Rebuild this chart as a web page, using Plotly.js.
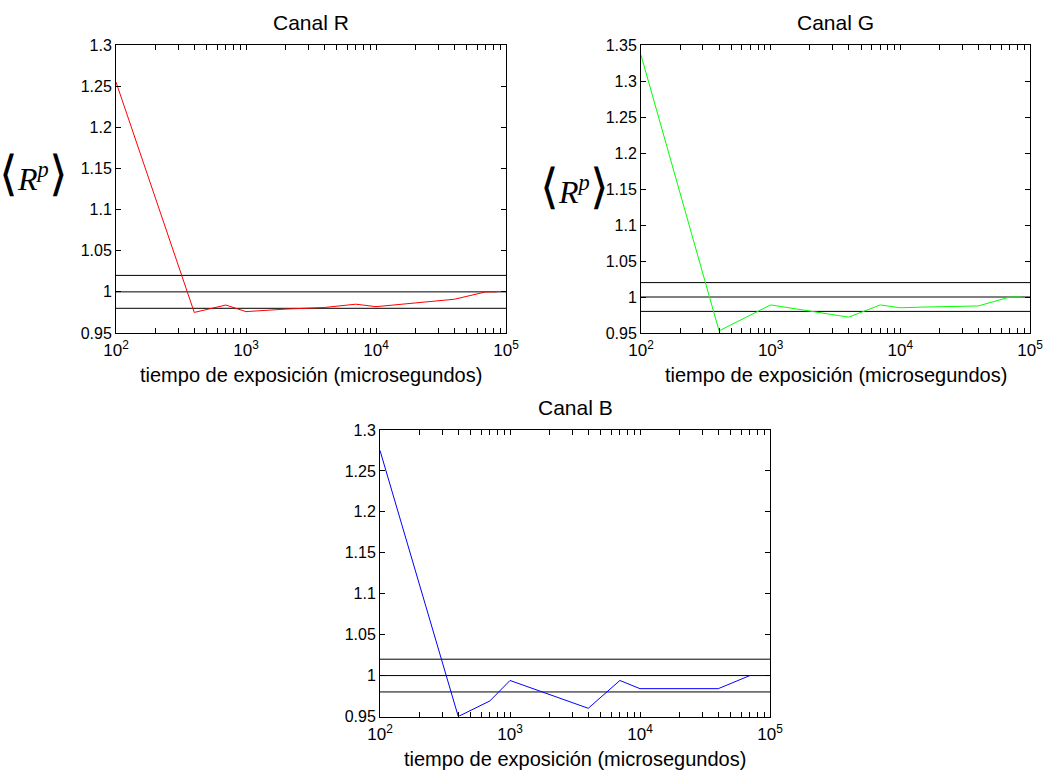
<!DOCTYPE html>
<html>
<head>
<meta charset="utf-8">
<script src="https://cdn.plot.ly/plotly-3.0.1.min.js"></script>
<style>html,body{margin:0;padding:0;background:#fff;} #chart{width:1049px;height:771px;}</style>
</head>
<body>
<div id="chart"></div>
<script>
// ---- data ----
const xR = [100, 400, 700, 1000, 2000, 4000, 7000, 10000, 40000, 70000, 85000];
const yR = [1.255, 0.975, 0.984, 0.976, 0.979, 0.981, 0.985, 0.982, 0.991, 1.000, 1.000];
const xG = [100, 400, 1000, 2000, 4000, 7000, 10000, 15000, 30000, 40000, 70000, 85000];
const yG = [1.336, 0.953, 0.989, 0.980, 0.972, 0.989, 0.985, 0.986, 0.9865, 0.9876, 1.000, 1.000];
const xB = [100, 400, 700, 1000, 4000, 7000, 10000, 40000, 70000];
const yB = [1.275, 0.950, 0.969, 0.994, 0.960, 0.994, 0.984, 0.984, 1.000];
const refX = [100, 100000];
const refLevels = [0.98, 1.00, 1.02];
const panelTitles = ['Canal R', 'Canal G', 'Canal B'];
const xTitle = 'tiempo de exposición (microsegundos)';
const yLabel = '<span style="font-size:48px">⟨</span><i>R</i><sup><i>p</i></sup><span style="font-size:48px">⟩</span>';
const decades = [100, 1000, 10000, 100000];
const decadeText = ['10<sup>2</sup>', '10<sup>3</sup>', '10<sup>4</sup>', '10<sup>5</sup>'];

// log tick positions (decades + minor 2..9)
const tickVals = [];
const tickText = [];
for (let d = 0; d < decades.length; d++) {
  tickVals.push(decades[d]); tickText.push(decadeText[d]);
  if (d < decades.length - 1) {
    for (let m = 2; m <= 9; m++) { tickVals.push(decades[d] * m); tickText.push(''); }
  }
}

const W = 1049, H = 771;
const px = v => v / W, py = v => 1 - v / H;

const panels = [
  {x: xR, y: yR, color: '#ff0000', xa: 'x', ya: 'y', xd: [116, 506], yd: [45, 333], yr: [0.95, 1.3]},
  {x: xG, y: yG, color: '#00ff00', xa: 'x2', ya: 'y2', xd: [641, 1030], yd: [45, 333], yr: [0.95, 1.35]},
  {x: xB, y: yB, color: '#0000ff', xa: 'x3', ya: 'y3', xd: [380, 770], yd: [430, 716.5], yr: [0.95, 1.3]}
];

const traces = [];
const layout = {
  width: W, height: H, margin: {l: 0, r: 0, t: 0, b: 0},
  paper_bgcolor: '#fff', plot_bgcolor: '#fff', showlegend: false,
  font: {family: 'Liberation Sans, Arial, sans-serif', color: '#000', size: 16},
  annotations: []
};

panels.forEach((p, i) => {
  refLevels.forEach(lv => {
    traces.push({x: refX, y: [lv, lv], xaxis: p.xa, yaxis: p.ya, mode: 'lines',
      line: {color: '#000', width: 1}, hoverinfo: 'skip'});
  });
  traces.push({x: p.x, y: p.y, xaxis: p.xa, yaxis: p.ya, mode: 'lines',
    line: {color: p.color, width: 1}});
  const xk = i === 0 ? 'xaxis' : 'xaxis' + (i + 1);
  const yk = i === 0 ? 'yaxis' : 'yaxis' + (i + 1);
  layout[xk] = {
    type: 'log', range: [2, 5], domain: [px(p.xd[0]), px(p.xd[1])], anchor: p.ya,
    tickmode: 'array', tickvals: tickVals, ticktext: tickText,
    ticks: 'inside', ticklen: 5, tickcolor: '#000', tickwidth: 1,
    showline: true, linecolor: '#000', linewidth: 1, mirror: 'ticks',
    showgrid: false, zeroline: false, tickfont: {size: 17}, ticklabelstandoff: 2
  };
  layout[yk] = {
    range: p.yr, domain: [py(p.yd[1]), py(p.yd[0])], anchor: p.xa,
    tick0: 0.95, dtick: 0.05, ticks: 'inside', ticklen: 5, tickcolor: '#000',
    showline: true, linecolor: '#000', linewidth: 1, mirror: 'ticks',
    showgrid: false, zeroline: false, tickfont: {size: 16}
  };
  const cx = px((p.xd[0] + p.xd[1]) / 2);
  layout.annotations.push({text: panelTitles[i], xref: 'paper', yref: 'paper',
    x: cx, y: py(p.yd[0] - 23), xanchor: 'center', yanchor: 'middle', showarrow: false,
    font: {size: 21}});
  layout.annotations.push({text: xTitle, xref: 'paper', yref: 'paper',
    x: cx, y: py(p.yd[1] + 42), xanchor: 'center', yanchor: 'middle', showarrow: false,
    font: {size: 20}});
});

// y labels (R and G panels only)
[[33, 174], [574, 186]].forEach(pos => {
  layout.annotations.push({text: yLabel, xref: 'paper', yref: 'paper',
    x: px(pos[0]), y: py(pos[1]), xanchor: 'center', yanchor: 'middle', showarrow: false,
    font: {family: 'Liberation Serif, Times New Roman, serif', size: 32}});
});

Plotly.newPlot('chart', traces, layout, {staticPlot: true});
</script>
</body>
</html>
